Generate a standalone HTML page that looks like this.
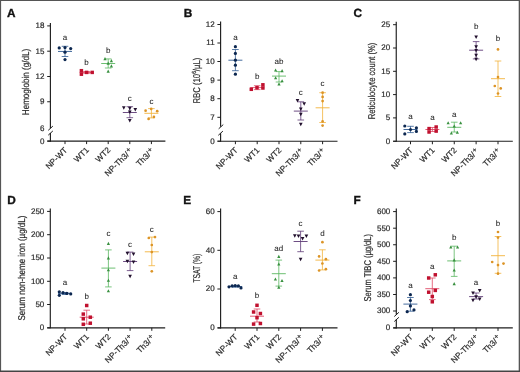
<!DOCTYPE html>
<html><head><meta charset="utf-8"><title>Figure</title>
<style>
html,body{margin:0;padding:0;background:#fff;}
body{width:520px;height:372px;overflow:hidden;}
svg{display:block;font-family:"Liberation Sans", sans-serif;text-rendering:geometricPrecision;will-change:transform;filter:blur(0.3px);}
text{stroke:#2b2b2b;stroke-width:0.2px;paint-order:stroke;}
</style></head>
<body>
<svg width="520" height="372" viewBox="0 0 520 372">
<rect width="520" height="372" fill="#fff"/>
<line x1="50.40" y1="22.90" x2="50.40" y2="128.20" stroke="#1e1e1e" stroke-width="1.15"/>
<line x1="50.40" y1="133.05" x2="50.40" y2="141.65" stroke="#1e1e1e" stroke-width="1.15"/>
<line x1="48.25" y1="130.30" x2="52.85" y2="126.10" stroke="#1e1e1e" stroke-width="1.0"/>
<line x1="48.25" y1="135.15" x2="52.85" y2="130.95" stroke="#1e1e1e" stroke-width="1.0"/>
<line x1="47.40" y1="141.10" x2="165.40" y2="141.10" stroke="#1e1e1e" stroke-width="1.15"/>
<line x1="47.20" y1="25.90" x2="50.40" y2="25.90" stroke="#1e1e1e" stroke-width="1.0"/>
<text x="44.40" y="28.30" font-size="8.0" text-anchor="end" font-weight="normal" fill="#2b2b2b" >18</text>
<line x1="47.20" y1="51.20" x2="50.40" y2="51.20" stroke="#1e1e1e" stroke-width="1.0"/>
<text x="44.40" y="53.60" font-size="8.0" text-anchor="end" font-weight="normal" fill="#2b2b2b" >15</text>
<line x1="47.20" y1="76.50" x2="50.40" y2="76.50" stroke="#1e1e1e" stroke-width="1.0"/>
<text x="44.40" y="78.90" font-size="8.0" text-anchor="end" font-weight="normal" fill="#2b2b2b" >12</text>
<line x1="47.20" y1="101.75" x2="50.40" y2="101.75" stroke="#1e1e1e" stroke-width="1.0"/>
<text x="44.40" y="104.15" font-size="8.0" text-anchor="end" font-weight="normal" fill="#2b2b2b" >9</text>
<text x="44.40" y="130.70" font-size="8.0" text-anchor="end" font-weight="normal" fill="#2b2b2b" >6</text>
<line x1="47.20" y1="141.10" x2="50.40" y2="141.10" stroke="#1e1e1e" stroke-width="1.0"/>
<text x="44.40" y="143.50" font-size="8.0" text-anchor="end" font-weight="normal" fill="#2b2b2b" >0</text>
<line x1="65.00" y1="141.10" x2="65.00" y2="144.10" stroke="#1e1e1e" stroke-width="1.0"/>
<text x="0" y="0" font-size="8.2" text-anchor="end" fill="#2b2b2b" transform="translate(67.90,150.60) rotate(-45)">NP-WT</text>
<line x1="86.60" y1="141.10" x2="86.60" y2="144.10" stroke="#1e1e1e" stroke-width="1.0"/>
<text x="0" y="0" font-size="8.2" text-anchor="end" fill="#2b2b2b" transform="translate(89.50,150.60) rotate(-45)">WT1</text>
<line x1="108.20" y1="141.10" x2="108.20" y2="144.10" stroke="#1e1e1e" stroke-width="1.0"/>
<text x="0" y="0" font-size="8.2" text-anchor="end" fill="#2b2b2b" transform="translate(111.10,150.60) rotate(-45)">WT2</text>
<line x1="129.80" y1="141.10" x2="129.80" y2="144.10" stroke="#1e1e1e" stroke-width="1.0"/>
<text x="0" y="0" font-size="8.2" text-anchor="end" fill="#2b2b2b" transform="translate(133.10,151.60) rotate(-45)">NP-Th3/<tspan font-size="7.4" dy="-2.3" dx="0.7">+</tspan></text>
<line x1="151.40" y1="141.10" x2="151.40" y2="144.10" stroke="#1e1e1e" stroke-width="1.0"/>
<text x="0" y="0" font-size="8.2" text-anchor="end" fill="#2b2b2b" transform="translate(154.70,151.60) rotate(-45)">Th3/<tspan font-size="7.4" dy="-2.3" dx="0.7">+</tspan></text>
<text x="0" y="0" font-size="9.8" text-anchor="middle" fill="#2b2b2b" transform="translate(29.20,82.00) rotate(-90) scale(0.8223,1)">Hemoglobin (g/dL)</text>
<text x="7.00" y="16.80" font-size="11.8" text-anchor="start" font-weight="bold" fill="#111" style="stroke:#111;stroke-width:0.35px">A</text>
<line x1="65.00" y1="46.30" x2="65.00" y2="56.50" stroke="#2f5a92" stroke-width="0.8"/>
<line x1="61.70" y1="46.30" x2="68.30" y2="46.30" stroke="#2f5a92" stroke-width="0.8"/>
<line x1="61.70" y1="56.50" x2="68.30" y2="56.50" stroke="#2f5a92" stroke-width="0.8"/>
<line x1="58.00" y1="51.45" x2="72.00" y2="51.45" stroke="#2f5a92" stroke-width="0.9"/>
<circle cx="59.20" cy="47.90" r="1.6" fill="#0c2750"/>
<circle cx="65.00" cy="47.60" r="1.6" fill="#0c2750"/>
<circle cx="70.70" cy="48.60" r="1.6" fill="#0c2750"/>
<circle cx="65.00" cy="52.20" r="1.6" fill="#0c2750"/>
<circle cx="65.00" cy="59.60" r="1.6" fill="#0c2750"/>
<text x="65.00" y="40.30" font-size="8.0" text-anchor="middle" font-weight="normal" fill="#2b2b2b" style="stroke-width:0.08px">a</text>
<line x1="86.60" y1="71.50" x2="86.60" y2="73.30" stroke="#df4a66" stroke-width="0.8"/>
<line x1="83.30" y1="71.50" x2="89.90" y2="71.50" stroke="#df4a66" stroke-width="0.8"/>
<line x1="83.30" y1="73.30" x2="89.90" y2="73.30" stroke="#df4a66" stroke-width="0.8"/>
<line x1="79.60" y1="72.40" x2="93.60" y2="72.40" stroke="#df4a66" stroke-width="0.9"/>
<rect x="79.66" y="68.96" width="3.48" height="3.48" fill="#c0112f"/>
<rect x="79.66" y="72.46" width="3.48" height="3.48" fill="#c0112f"/>
<rect x="84.86" y="70.66" width="3.48" height="3.48" fill="#c0112f"/>
<rect x="90.46" y="70.66" width="3.48" height="3.48" fill="#c0112f"/>
<text x="86.60" y="65.00" font-size="8.0" text-anchor="middle" font-weight="normal" fill="#2b2b2b" style="stroke-width:0.08px">b</text>
<line x1="108.20" y1="58.90" x2="108.20" y2="68.00" stroke="#5cb862" stroke-width="0.8"/>
<line x1="104.90" y1="58.90" x2="111.50" y2="58.90" stroke="#5cb862" stroke-width="0.8"/>
<line x1="104.90" y1="68.00" x2="111.50" y2="68.00" stroke="#5cb862" stroke-width="0.8"/>
<line x1="101.20" y1="63.50" x2="115.20" y2="63.50" stroke="#5cb862" stroke-width="0.9"/>
<polygon points="105.00,57.05 106.61,60.13 103.39,60.13" fill="#38903f"/>
<polygon points="111.40,59.05 113.01,62.13 109.79,62.13" fill="#38903f"/>
<polygon points="108.20,61.55 109.81,64.63 106.59,64.63" fill="#38903f"/>
<polygon points="111.40,64.35 113.01,67.43 109.79,67.43" fill="#38903f"/>
<polygon points="108.20,69.55 109.81,72.63 106.59,72.63" fill="#38903f"/>
<text x="108.20" y="52.50" font-size="8.0" text-anchor="middle" font-weight="normal" fill="#2b2b2b" style="stroke-width:0.08px">b</text>
<line x1="129.80" y1="106.70" x2="129.80" y2="117.70" stroke="#5e3a76" stroke-width="0.8"/>
<line x1="126.50" y1="106.70" x2="133.10" y2="106.70" stroke="#5e3a76" stroke-width="0.8"/>
<line x1="126.50" y1="117.70" x2="133.10" y2="117.70" stroke="#5e3a76" stroke-width="0.8"/>
<line x1="122.80" y1="112.50" x2="136.80" y2="112.50" stroke="#5e3a76" stroke-width="0.9"/>
<polygon points="123.80,109.81 125.64,106.29 121.96,106.29" fill="#22102e"/>
<polygon points="129.80,110.21 131.64,106.69 127.96,106.69" fill="#22102e"/>
<polygon points="135.30,111.61 137.14,108.09 133.46,108.09" fill="#22102e"/>
<polygon points="129.80,114.11 131.64,110.59 127.96,110.59" fill="#22102e"/>
<polygon points="129.80,122.51 131.64,118.99 127.96,118.99" fill="#22102e"/>
<text x="129.80" y="100.80" font-size="8.0" text-anchor="middle" font-weight="normal" fill="#2b2b2b" style="stroke-width:0.08px">c</text>
<line x1="151.40" y1="108.60" x2="151.40" y2="117.90" stroke="#f3b23a" stroke-width="0.8"/>
<line x1="148.10" y1="108.60" x2="154.70" y2="108.60" stroke="#f3b23a" stroke-width="0.8"/>
<line x1="148.10" y1="117.90" x2="154.70" y2="117.90" stroke="#f3b23a" stroke-width="0.8"/>
<line x1="144.40" y1="113.30" x2="158.40" y2="113.30" stroke="#f3b23a" stroke-width="0.9"/>
<circle cx="145.60" cy="110.70" r="1.35" fill="#dc9426"/>
<circle cx="151.20" cy="108.90" r="1.35" fill="#dc9426"/>
<circle cx="157.20" cy="111.20" r="1.35" fill="#dc9426"/>
<circle cx="153.90" cy="116.90" r="1.35" fill="#dc9426"/>
<circle cx="148.60" cy="118.90" r="1.35" fill="#dc9426"/>
<text x="151.40" y="103.50" font-size="8.0" text-anchor="middle" font-weight="normal" fill="#2b2b2b" style="stroke-width:0.08px">c</text>
<line x1="220.60" y1="21.50" x2="220.60" y2="126.70" stroke="#1e1e1e" stroke-width="1.15"/>
<line x1="220.60" y1="133.20" x2="220.60" y2="141.75" stroke="#1e1e1e" stroke-width="1.15"/>
<line x1="218.65" y1="128.80" x2="223.25" y2="124.60" stroke="#1e1e1e" stroke-width="1.0"/>
<line x1="218.30" y1="135.30" x2="222.90" y2="131.10" stroke="#1e1e1e" stroke-width="1.0"/>
<line x1="217.60" y1="141.20" x2="337.50" y2="141.20" stroke="#1e1e1e" stroke-width="1.15"/>
<line x1="217.40" y1="24.50" x2="220.60" y2="24.50" stroke="#1e1e1e" stroke-width="1.0"/>
<text x="214.60" y="26.90" font-size="8.0" text-anchor="end" font-weight="normal" fill="#2b2b2b" >12</text>
<line x1="217.40" y1="43.00" x2="220.60" y2="43.00" stroke="#1e1e1e" stroke-width="1.0"/>
<text x="214.60" y="45.40" font-size="8.0" text-anchor="end" font-weight="normal" fill="#2b2b2b" >11</text>
<line x1="217.40" y1="61.50" x2="220.60" y2="61.50" stroke="#1e1e1e" stroke-width="1.0"/>
<text x="214.60" y="63.90" font-size="8.0" text-anchor="end" font-weight="normal" fill="#2b2b2b" >10</text>
<line x1="217.40" y1="80.10" x2="220.60" y2="80.10" stroke="#1e1e1e" stroke-width="1.0"/>
<text x="214.60" y="82.50" font-size="8.0" text-anchor="end" font-weight="normal" fill="#2b2b2b" >9</text>
<line x1="217.40" y1="98.70" x2="220.60" y2="98.70" stroke="#1e1e1e" stroke-width="1.0"/>
<text x="214.60" y="101.10" font-size="8.0" text-anchor="end" font-weight="normal" fill="#2b2b2b" >8</text>
<line x1="217.40" y1="117.30" x2="220.60" y2="117.30" stroke="#1e1e1e" stroke-width="1.0"/>
<text x="214.60" y="119.70" font-size="8.0" text-anchor="end" font-weight="normal" fill="#2b2b2b" >7</text>
<line x1="217.40" y1="141.20" x2="220.60" y2="141.20" stroke="#1e1e1e" stroke-width="1.0"/>
<text x="214.60" y="143.60" font-size="8.0" text-anchor="end" font-weight="normal" fill="#2b2b2b" >0</text>
<line x1="235.40" y1="141.20" x2="235.40" y2="144.20" stroke="#1e1e1e" stroke-width="1.0"/>
<text x="0" y="0" font-size="8.2" text-anchor="end" fill="#2b2b2b" transform="translate(238.30,150.70) rotate(-45)">NP-WT</text>
<line x1="257.20" y1="141.20" x2="257.20" y2="144.20" stroke="#1e1e1e" stroke-width="1.0"/>
<text x="0" y="0" font-size="8.2" text-anchor="end" fill="#2b2b2b" transform="translate(260.10,150.70) rotate(-45)">WT1</text>
<line x1="279.00" y1="141.20" x2="279.00" y2="144.20" stroke="#1e1e1e" stroke-width="1.0"/>
<text x="0" y="0" font-size="8.2" text-anchor="end" fill="#2b2b2b" transform="translate(281.90,150.70) rotate(-45)">WT2</text>
<line x1="300.80" y1="141.20" x2="300.80" y2="144.20" stroke="#1e1e1e" stroke-width="1.0"/>
<text x="0" y="0" font-size="8.2" text-anchor="end" fill="#2b2b2b" transform="translate(304.10,151.70) rotate(-45)">NP-Th3/<tspan font-size="7.4" dy="-2.3" dx="0.7">+</tspan></text>
<line x1="322.60" y1="141.20" x2="322.60" y2="144.20" stroke="#1e1e1e" stroke-width="1.0"/>
<text x="0" y="0" font-size="8.2" text-anchor="end" fill="#2b2b2b" transform="translate(325.90,151.70) rotate(-45)">Th3/<tspan font-size="7.4" dy="-2.3" dx="0.7">+</tspan></text>
<text x="0" y="0" font-size="9.8" text-anchor="middle" fill="#2b2b2b" transform="translate(199.60,80.60) rotate(-90) scale(0.7931,1)">RBC (10<tspan font-size="6" dy="-3.4">6</tspan><tspan dy="3.4">/µL)</tspan></text>
<text x="183.80" y="16.80" font-size="11.8" text-anchor="start" font-weight="bold" fill="#111" style="stroke:#111;stroke-width:0.35px">B</text>
<line x1="235.40" y1="49.50" x2="235.40" y2="70.70" stroke="#2f5a92" stroke-width="0.8"/>
<line x1="232.10" y1="49.50" x2="238.70" y2="49.50" stroke="#2f5a92" stroke-width="0.8"/>
<line x1="232.10" y1="70.70" x2="238.70" y2="70.70" stroke="#2f5a92" stroke-width="0.8"/>
<line x1="228.40" y1="60.20" x2="242.40" y2="60.20" stroke="#2f5a92" stroke-width="0.9"/>
<circle cx="235.40" cy="46.70" r="1.6" fill="#0c2750"/>
<circle cx="235.40" cy="53.40" r="1.6" fill="#0c2750"/>
<circle cx="235.40" cy="60.20" r="1.6" fill="#0c2750"/>
<circle cx="235.40" cy="65.20" r="1.6" fill="#0c2750"/>
<circle cx="235.40" cy="74.20" r="1.6" fill="#0c2750"/>
<text x="235.40" y="40.40" font-size="8.0" text-anchor="middle" font-weight="normal" fill="#2b2b2b" style="stroke-width:0.08px">a</text>
<line x1="257.20" y1="85.70" x2="257.20" y2="89.60" stroke="#df4a66" stroke-width="0.8"/>
<line x1="253.90" y1="85.70" x2="260.50" y2="85.70" stroke="#df4a66" stroke-width="0.8"/>
<line x1="253.90" y1="89.60" x2="260.50" y2="89.60" stroke="#df4a66" stroke-width="0.8"/>
<line x1="250.20" y1="87.60" x2="264.20" y2="87.60" stroke="#df4a66" stroke-width="0.9"/>
<rect x="249.56" y="87.56" width="3.48" height="3.48" fill="#c0112f"/>
<rect x="255.26" y="85.96" width="3.48" height="3.48" fill="#c0112f"/>
<rect x="261.16" y="83.06" width="3.48" height="3.48" fill="#c0112f"/>
<rect x="261.16" y="86.26" width="3.48" height="3.48" fill="#c0112f"/>
<text x="257.20" y="79.40" font-size="8.0" text-anchor="middle" font-weight="normal" fill="#2b2b2b" style="stroke-width:0.08px">b</text>
<line x1="279.00" y1="71.60" x2="279.00" y2="82.00" stroke="#5cb862" stroke-width="0.8"/>
<line x1="275.70" y1="71.60" x2="282.30" y2="71.60" stroke="#5cb862" stroke-width="0.8"/>
<line x1="275.70" y1="82.00" x2="282.30" y2="82.00" stroke="#5cb862" stroke-width="0.8"/>
<line x1="272.00" y1="76.10" x2="286.00" y2="76.10" stroke="#5cb862" stroke-width="0.9"/>
<polygon points="275.60,68.45 277.21,71.53 273.99,71.53" fill="#38903f"/>
<polygon points="282.10,69.05 283.71,72.13 280.49,72.13" fill="#38903f"/>
<polygon points="275.60,76.25 277.21,79.33 273.99,79.33" fill="#38903f"/>
<polygon points="282.10,79.15 283.71,82.23 280.49,82.23" fill="#38903f"/>
<polygon points="279.00,82.35 280.61,85.43 277.39,85.43" fill="#38903f"/>
<text x="279.00" y="63.70" font-size="8.0" text-anchor="middle" font-weight="normal" fill="#2b2b2b" style="stroke-width:0.08px">ab</text>
<line x1="300.80" y1="101.80" x2="300.80" y2="120.00" stroke="#5e3a76" stroke-width="0.8"/>
<line x1="297.50" y1="101.80" x2="304.10" y2="101.80" stroke="#5e3a76" stroke-width="0.8"/>
<line x1="297.50" y1="120.00" x2="304.10" y2="120.00" stroke="#5e3a76" stroke-width="0.8"/>
<line x1="293.80" y1="111.10" x2="307.80" y2="111.10" stroke="#5e3a76" stroke-width="0.9"/>
<polygon points="297.50,102.51 299.34,98.99 295.66,98.99" fill="#22102e"/>
<polygon points="304.20,105.71 306.04,102.19 302.36,102.19" fill="#22102e"/>
<polygon points="300.80,110.91 302.64,107.39 298.96,107.39" fill="#22102e"/>
<polygon points="300.80,116.21 302.64,112.69 298.96,112.69" fill="#22102e"/>
<polygon points="300.80,126.31 302.64,122.79 298.96,122.79" fill="#22102e"/>
<text x="300.80" y="94.50" font-size="8.0" text-anchor="middle" font-weight="normal" fill="#2b2b2b" style="stroke-width:0.08px">c</text>
<line x1="322.60" y1="92.70" x2="322.60" y2="122.50" stroke="#f3b23a" stroke-width="0.8"/>
<line x1="319.30" y1="92.70" x2="325.90" y2="92.70" stroke="#f3b23a" stroke-width="0.8"/>
<line x1="319.30" y1="122.50" x2="325.90" y2="122.50" stroke="#f3b23a" stroke-width="0.8"/>
<line x1="315.60" y1="107.80" x2="329.60" y2="107.80" stroke="#f3b23a" stroke-width="0.9"/>
<circle cx="322.60" cy="92.70" r="1.35" fill="#dc9426"/>
<circle cx="322.60" cy="96.90" r="1.35" fill="#dc9426"/>
<circle cx="322.60" cy="101.10" r="1.35" fill="#dc9426"/>
<circle cx="322.60" cy="121.40" r="1.35" fill="#dc9426"/>
<circle cx="322.60" cy="125.60" r="1.35" fill="#dc9426"/>
<text x="322.60" y="86.10" font-size="8.0" text-anchor="middle" font-weight="normal" fill="#2b2b2b" style="stroke-width:0.08px">c</text>
<line x1="396.25" y1="21.80" x2="396.25" y2="141.80" stroke="#1e1e1e" stroke-width="1.15"/>
<line x1="393.25" y1="141.25" x2="512.80" y2="141.25" stroke="#1e1e1e" stroke-width="1.15"/>
<line x1="393.05" y1="24.70" x2="396.25" y2="24.70" stroke="#1e1e1e" stroke-width="1.0"/>
<text x="390.25" y="27.10" font-size="8.0" text-anchor="end" font-weight="normal" fill="#2b2b2b" >25</text>
<line x1="393.05" y1="48.00" x2="396.25" y2="48.00" stroke="#1e1e1e" stroke-width="1.0"/>
<text x="390.25" y="50.40" font-size="8.0" text-anchor="end" font-weight="normal" fill="#2b2b2b" >20</text>
<line x1="393.05" y1="71.30" x2="396.25" y2="71.30" stroke="#1e1e1e" stroke-width="1.0"/>
<text x="390.25" y="73.70" font-size="8.0" text-anchor="end" font-weight="normal" fill="#2b2b2b" >15</text>
<line x1="393.05" y1="94.60" x2="396.25" y2="94.60" stroke="#1e1e1e" stroke-width="1.0"/>
<text x="390.25" y="97.00" font-size="8.0" text-anchor="end" font-weight="normal" fill="#2b2b2b" >10</text>
<line x1="393.05" y1="117.90" x2="396.25" y2="117.90" stroke="#1e1e1e" stroke-width="1.0"/>
<text x="390.25" y="120.30" font-size="8.0" text-anchor="end" font-weight="normal" fill="#2b2b2b" >5</text>
<line x1="393.05" y1="141.25" x2="396.25" y2="141.25" stroke="#1e1e1e" stroke-width="1.0"/>
<text x="390.25" y="143.65" font-size="8.0" text-anchor="end" font-weight="normal" fill="#2b2b2b" >0</text>
<line x1="410.50" y1="141.25" x2="410.50" y2="144.25" stroke="#1e1e1e" stroke-width="1.0"/>
<text x="0" y="0" font-size="8.2" text-anchor="end" fill="#2b2b2b" transform="translate(413.40,150.75) rotate(-45)">NP-WT</text>
<line x1="432.38" y1="141.25" x2="432.38" y2="144.25" stroke="#1e1e1e" stroke-width="1.0"/>
<text x="0" y="0" font-size="8.2" text-anchor="end" fill="#2b2b2b" transform="translate(435.27,150.75) rotate(-45)">WT1</text>
<line x1="454.25" y1="141.25" x2="454.25" y2="144.25" stroke="#1e1e1e" stroke-width="1.0"/>
<text x="0" y="0" font-size="8.2" text-anchor="end" fill="#2b2b2b" transform="translate(457.15,150.75) rotate(-45)">WT2</text>
<line x1="476.12" y1="141.25" x2="476.12" y2="144.25" stroke="#1e1e1e" stroke-width="1.0"/>
<text x="0" y="0" font-size="8.2" text-anchor="end" fill="#2b2b2b" transform="translate(479.42,151.75) rotate(-45)">NP-Th3/<tspan font-size="7.4" dy="-2.3" dx="0.7">+</tspan></text>
<line x1="498.00" y1="141.25" x2="498.00" y2="144.25" stroke="#1e1e1e" stroke-width="1.0"/>
<text x="0" y="0" font-size="8.2" text-anchor="end" fill="#2b2b2b" transform="translate(501.30,151.75) rotate(-45)">Th3/<tspan font-size="7.4" dy="-2.3" dx="0.7">+</tspan></text>
<text x="0" y="0" font-size="9.8" text-anchor="middle" fill="#2b2b2b" transform="translate(374.80,81.00) rotate(-90) scale(0.7813,1)">Reticulocyte count (%)</text>
<text x="353.60" y="16.80" font-size="11.8" text-anchor="start" font-weight="bold" fill="#111" style="stroke:#111;stroke-width:0.35px">C</text>
<line x1="410.50" y1="126.30" x2="410.50" y2="132.60" stroke="#2f5a92" stroke-width="0.8"/>
<line x1="407.20" y1="126.30" x2="413.80" y2="126.30" stroke="#2f5a92" stroke-width="0.8"/>
<line x1="407.20" y1="132.60" x2="413.80" y2="132.60" stroke="#2f5a92" stroke-width="0.8"/>
<line x1="403.50" y1="129.50" x2="417.50" y2="129.50" stroke="#2f5a92" stroke-width="0.9"/>
<circle cx="404.80" cy="126.00" r="1.6" fill="#0c2750"/>
<circle cx="404.80" cy="133.90" r="1.6" fill="#0c2750"/>
<circle cx="410.50" cy="129.50" r="1.6" fill="#0c2750"/>
<circle cx="416.40" cy="127.80" r="1.6" fill="#0c2750"/>
<circle cx="416.40" cy="131.40" r="1.6" fill="#0c2750"/>
<text x="410.50" y="119.30" font-size="8.0" text-anchor="middle" font-weight="normal" fill="#2b2b2b" style="stroke-width:0.08px">a</text>
<line x1="432.38" y1="127.50" x2="432.38" y2="131.50" stroke="#df4a66" stroke-width="0.8"/>
<line x1="429.07" y1="127.50" x2="435.68" y2="127.50" stroke="#df4a66" stroke-width="0.8"/>
<line x1="429.07" y1="131.50" x2="435.68" y2="131.50" stroke="#df4a66" stroke-width="0.8"/>
<line x1="425.38" y1="129.50" x2="439.38" y2="129.50" stroke="#df4a66" stroke-width="0.9"/>
<rect x="427.33" y="126.86" width="3.48" height="3.48" fill="#c0112f"/>
<rect x="427.33" y="130.26" width="3.48" height="3.48" fill="#c0112f"/>
<rect x="434.43" y="125.26" width="3.48" height="3.48" fill="#c0112f"/>
<rect x="434.43" y="129.36" width="3.48" height="3.48" fill="#c0112f"/>
<text x="432.38" y="120.20" font-size="8.0" text-anchor="middle" font-weight="normal" fill="#2b2b2b" style="stroke-width:0.08px">a</text>
<line x1="454.25" y1="122.20" x2="454.25" y2="132.00" stroke="#5cb862" stroke-width="0.8"/>
<line x1="450.95" y1="122.20" x2="457.55" y2="122.20" stroke="#5cb862" stroke-width="0.8"/>
<line x1="450.95" y1="132.00" x2="457.55" y2="132.00" stroke="#5cb862" stroke-width="0.8"/>
<line x1="447.25" y1="127.30" x2="461.25" y2="127.30" stroke="#5cb862" stroke-width="0.9"/>
<polygon points="448.15,121.25 449.76,124.33 446.54,124.33" fill="#38903f"/>
<polygon points="460.65,121.25 462.26,124.33 459.04,124.33" fill="#38903f"/>
<polygon points="454.25,124.45 455.86,127.53 452.64,127.53" fill="#38903f"/>
<polygon points="451.35,131.45 452.96,134.53 449.74,134.53" fill="#38903f"/>
<polygon points="457.35,130.75 458.96,133.83 455.74,133.83" fill="#38903f"/>
<text x="454.25" y="117.20" font-size="8.0" text-anchor="middle" font-weight="normal" fill="#2b2b2b" style="stroke-width:0.08px">a</text>
<line x1="476.12" y1="41.60" x2="476.12" y2="58.90" stroke="#5e3a76" stroke-width="0.8"/>
<line x1="472.82" y1="41.60" x2="479.43" y2="41.60" stroke="#5e3a76" stroke-width="0.8"/>
<line x1="472.82" y1="58.90" x2="479.43" y2="58.90" stroke="#5e3a76" stroke-width="0.8"/>
<line x1="469.12" y1="50.20" x2="483.12" y2="50.20" stroke="#5e3a76" stroke-width="0.9"/>
<polygon points="476.12,39.11 477.96,35.59 474.29,35.59" fill="#22102e"/>
<polygon points="476.12,48.81 477.96,45.29 474.29,45.29" fill="#22102e"/>
<polygon points="476.12,52.41 477.96,48.89 474.29,48.89" fill="#22102e"/>
<polygon points="476.12,57.21 477.96,53.69 474.29,53.69" fill="#22102e"/>
<polygon points="476.12,61.21 477.96,57.69 474.29,57.69" fill="#22102e"/>
<text x="476.12" y="29.40" font-size="8.0" text-anchor="middle" font-weight="normal" fill="#2b2b2b" style="stroke-width:0.08px">b</text>
<line x1="498.00" y1="61.00" x2="498.00" y2="96.50" stroke="#f3b23a" stroke-width="0.8"/>
<line x1="494.70" y1="61.00" x2="501.30" y2="61.00" stroke="#f3b23a" stroke-width="0.8"/>
<line x1="494.70" y1="96.50" x2="501.30" y2="96.50" stroke="#f3b23a" stroke-width="0.8"/>
<line x1="491.00" y1="78.70" x2="505.00" y2="78.70" stroke="#f3b23a" stroke-width="0.9"/>
<circle cx="498.00" cy="49.40" r="1.35" fill="#dc9426"/>
<circle cx="498.00" cy="77.10" r="1.35" fill="#dc9426"/>
<circle cx="494.80" cy="86.00" r="1.35" fill="#dc9426"/>
<circle cx="500.70" cy="88.40" r="1.35" fill="#dc9426"/>
<circle cx="498.00" cy="93.50" r="1.35" fill="#dc9426"/>
<text x="498.00" y="41.40" font-size="8.0" text-anchor="middle" font-weight="normal" fill="#2b2b2b" style="stroke-width:0.08px">b</text>
<line x1="50.30" y1="208.50" x2="50.30" y2="328.35" stroke="#1e1e1e" stroke-width="1.15"/>
<line x1="47.30" y1="327.80" x2="165.20" y2="327.80" stroke="#1e1e1e" stroke-width="1.15"/>
<line x1="47.10" y1="211.40" x2="50.30" y2="211.40" stroke="#1e1e1e" stroke-width="1.0"/>
<text x="44.30" y="213.80" font-size="8.0" text-anchor="end" font-weight="normal" fill="#2b2b2b" >250</text>
<line x1="47.10" y1="234.70" x2="50.30" y2="234.70" stroke="#1e1e1e" stroke-width="1.0"/>
<text x="44.30" y="237.10" font-size="8.0" text-anchor="end" font-weight="normal" fill="#2b2b2b" >200</text>
<line x1="47.10" y1="258.00" x2="50.30" y2="258.00" stroke="#1e1e1e" stroke-width="1.0"/>
<text x="44.30" y="260.40" font-size="8.0" text-anchor="end" font-weight="normal" fill="#2b2b2b" >150</text>
<line x1="47.10" y1="281.30" x2="50.30" y2="281.30" stroke="#1e1e1e" stroke-width="1.0"/>
<text x="44.30" y="283.70" font-size="8.0" text-anchor="end" font-weight="normal" fill="#2b2b2b" >100</text>
<line x1="47.10" y1="304.50" x2="50.30" y2="304.50" stroke="#1e1e1e" stroke-width="1.0"/>
<text x="44.30" y="306.90" font-size="8.0" text-anchor="end" font-weight="normal" fill="#2b2b2b" >50</text>
<line x1="47.10" y1="327.80" x2="50.30" y2="327.80" stroke="#1e1e1e" stroke-width="1.0"/>
<text x="44.30" y="330.20" font-size="8.0" text-anchor="end" font-weight="normal" fill="#2b2b2b" >0</text>
<line x1="65.00" y1="327.80" x2="65.00" y2="330.80" stroke="#1e1e1e" stroke-width="1.0"/>
<text x="0" y="0" font-size="8.2" text-anchor="end" fill="#2b2b2b" transform="translate(67.90,337.30) rotate(-45)">NP-WT</text>
<line x1="86.70" y1="327.80" x2="86.70" y2="330.80" stroke="#1e1e1e" stroke-width="1.0"/>
<text x="0" y="0" font-size="8.2" text-anchor="end" fill="#2b2b2b" transform="translate(89.60,337.30) rotate(-45)">WT1</text>
<line x1="108.40" y1="327.80" x2="108.40" y2="330.80" stroke="#1e1e1e" stroke-width="1.0"/>
<text x="0" y="0" font-size="8.2" text-anchor="end" fill="#2b2b2b" transform="translate(111.30,337.30) rotate(-45)">WT2</text>
<line x1="130.10" y1="327.80" x2="130.10" y2="330.80" stroke="#1e1e1e" stroke-width="1.0"/>
<text x="0" y="0" font-size="8.2" text-anchor="end" fill="#2b2b2b" transform="translate(133.40,338.30) rotate(-45)">NP-Th3/<tspan font-size="7.4" dy="-2.3" dx="0.7">+</tspan></text>
<line x1="151.80" y1="327.80" x2="151.80" y2="330.80" stroke="#1e1e1e" stroke-width="1.0"/>
<text x="0" y="0" font-size="8.2" text-anchor="end" fill="#2b2b2b" transform="translate(155.10,338.30) rotate(-45)">Th3/<tspan font-size="7.4" dy="-2.3" dx="0.7">+</tspan></text>
<text x="0" y="0" font-size="9.8" text-anchor="middle" fill="#2b2b2b" transform="translate(24.50,268.10) rotate(-90) scale(0.8155,1)">Serum non-heme iron (µg/dL)</text>
<text x="7.20" y="203.60" font-size="11.8" text-anchor="start" font-weight="bold" fill="#111" style="stroke:#111;stroke-width:0.35px">D</text>
<line x1="65.00" y1="292.50" x2="65.00" y2="294.50" stroke="#2f5a92" stroke-width="0.8"/>
<line x1="61.70" y1="292.50" x2="68.30" y2="292.50" stroke="#2f5a92" stroke-width="0.8"/>
<line x1="61.70" y1="294.50" x2="68.30" y2="294.50" stroke="#2f5a92" stroke-width="0.8"/>
<line x1="58.00" y1="293.40" x2="72.00" y2="293.40" stroke="#2f5a92" stroke-width="0.9"/>
<circle cx="59.30" cy="291.80" r="1.6" fill="#0c2750"/>
<circle cx="59.30" cy="295.30" r="1.6" fill="#0c2750"/>
<circle cx="63.00" cy="292.70" r="1.6" fill="#0c2750"/>
<circle cx="66.80" cy="293.40" r="1.6" fill="#0c2750"/>
<circle cx="70.70" cy="293.90" r="1.6" fill="#0c2750"/>
<text x="65.00" y="285.30" font-size="8.0" text-anchor="middle" font-weight="normal" fill="#2b2b2b" style="stroke-width:0.08px">a</text>
<line x1="86.70" y1="310.20" x2="86.70" y2="324.00" stroke="#df4a66" stroke-width="0.8"/>
<line x1="83.40" y1="310.20" x2="90.00" y2="310.20" stroke="#df4a66" stroke-width="0.8"/>
<line x1="83.40" y1="324.00" x2="90.00" y2="324.00" stroke="#df4a66" stroke-width="0.8"/>
<line x1="79.70" y1="317.20" x2="93.70" y2="317.20" stroke="#df4a66" stroke-width="0.9"/>
<rect x="84.96" y="303.76" width="3.48" height="3.48" fill="#c0112f"/>
<rect x="81.56" y="312.36" width="3.48" height="3.48" fill="#c0112f"/>
<rect x="81.56" y="317.06" width="3.48" height="3.48" fill="#c0112f"/>
<rect x="88.56" y="315.46" width="3.48" height="3.48" fill="#c0112f"/>
<rect x="81.56" y="322.56" width="3.48" height="3.48" fill="#c0112f"/>
<rect x="88.56" y="321.46" width="3.48" height="3.48" fill="#c0112f"/>
<text x="86.70" y="298.50" font-size="8.0" text-anchor="middle" font-weight="normal" fill="#2b2b2b" style="stroke-width:0.08px">b</text>
<line x1="108.40" y1="249.90" x2="108.40" y2="286.90" stroke="#5cb862" stroke-width="0.8"/>
<line x1="105.10" y1="249.90" x2="111.70" y2="249.90" stroke="#5cb862" stroke-width="0.8"/>
<line x1="105.10" y1="286.90" x2="111.70" y2="286.90" stroke="#5cb862" stroke-width="0.8"/>
<line x1="101.40" y1="268.10" x2="115.40" y2="268.10" stroke="#5cb862" stroke-width="0.9"/>
<polygon points="108.40,241.85 110.01,244.93 106.79,244.93" fill="#38903f"/>
<polygon points="108.40,256.35 110.01,259.43 106.79,259.43" fill="#38903f"/>
<polygon points="108.40,268.15 110.01,271.23 106.79,271.23" fill="#38903f"/>
<polygon points="108.40,278.75 110.01,281.83 106.79,281.83" fill="#38903f"/>
<polygon points="108.40,289.15 110.01,292.23 106.79,292.23" fill="#38903f"/>
<text x="108.40" y="235.60" font-size="8.0" text-anchor="middle" font-weight="normal" fill="#2b2b2b" style="stroke-width:0.08px">c</text>
<line x1="130.10" y1="252.10" x2="130.10" y2="270.60" stroke="#5e3a76" stroke-width="0.8"/>
<line x1="126.80" y1="252.10" x2="133.40" y2="252.10" stroke="#5e3a76" stroke-width="0.8"/>
<line x1="126.80" y1="270.60" x2="133.40" y2="270.60" stroke="#5e3a76" stroke-width="0.8"/>
<line x1="123.10" y1="261.50" x2="137.10" y2="261.50" stroke="#5e3a76" stroke-width="0.9"/>
<polygon points="127.40,255.21 129.24,251.69 125.56,251.69" fill="#22102e"/>
<polygon points="133.50,256.11 135.34,252.59 131.66,252.59" fill="#22102e"/>
<polygon points="127.40,263.31 129.24,259.79 125.56,259.79" fill="#22102e"/>
<polygon points="133.50,264.01 135.34,260.49 131.66,260.49" fill="#22102e"/>
<polygon points="130.10,278.31 131.94,274.79 128.26,274.79" fill="#22102e"/>
<text x="130.10" y="246.50" font-size="8.0" text-anchor="middle" font-weight="normal" fill="#2b2b2b" style="stroke-width:0.08px">c</text>
<line x1="151.80" y1="237.10" x2="151.80" y2="265.70" stroke="#f3b23a" stroke-width="0.8"/>
<line x1="148.50" y1="237.10" x2="155.10" y2="237.10" stroke="#f3b23a" stroke-width="0.8"/>
<line x1="148.50" y1="265.70" x2="155.10" y2="265.70" stroke="#f3b23a" stroke-width="0.8"/>
<line x1="144.80" y1="251.80" x2="158.80" y2="251.80" stroke="#f3b23a" stroke-width="0.9"/>
<circle cx="148.80" cy="238.00" r="1.35" fill="#dc9426"/>
<circle cx="155.00" cy="237.10" r="1.35" fill="#dc9426"/>
<circle cx="151.80" cy="245.00" r="1.35" fill="#dc9426"/>
<circle cx="151.80" cy="252.10" r="1.35" fill="#dc9426"/>
<circle cx="151.80" cy="271.30" r="1.35" fill="#dc9426"/>
<text x="151.80" y="231.80" font-size="8.0" text-anchor="middle" font-weight="normal" fill="#2b2b2b" style="stroke-width:0.08px">c</text>
<line x1="220.60" y1="208.60" x2="220.60" y2="328.45" stroke="#1e1e1e" stroke-width="1.15"/>
<line x1="217.60" y1="327.90" x2="337.50" y2="327.90" stroke="#1e1e1e" stroke-width="1.15"/>
<line x1="217.40" y1="211.60" x2="220.60" y2="211.60" stroke="#1e1e1e" stroke-width="1.0"/>
<text x="214.60" y="214.00" font-size="8.0" text-anchor="end" font-weight="normal" fill="#2b2b2b" >60</text>
<line x1="217.40" y1="250.30" x2="220.60" y2="250.30" stroke="#1e1e1e" stroke-width="1.0"/>
<text x="214.60" y="252.70" font-size="8.0" text-anchor="end" font-weight="normal" fill="#2b2b2b" >40</text>
<line x1="217.40" y1="289.00" x2="220.60" y2="289.00" stroke="#1e1e1e" stroke-width="1.0"/>
<text x="214.60" y="291.40" font-size="8.0" text-anchor="end" font-weight="normal" fill="#2b2b2b" >20</text>
<line x1="217.40" y1="327.90" x2="220.60" y2="327.90" stroke="#1e1e1e" stroke-width="1.0"/>
<text x="214.60" y="330.30" font-size="8.0" text-anchor="end" font-weight="normal" fill="#2b2b2b" >0</text>
<line x1="235.20" y1="327.90" x2="235.20" y2="330.90" stroke="#1e1e1e" stroke-width="1.0"/>
<text x="0" y="0" font-size="8.2" text-anchor="end" fill="#2b2b2b" transform="translate(238.10,337.40) rotate(-45)">NP-WT</text>
<line x1="257.00" y1="327.90" x2="257.00" y2="330.90" stroke="#1e1e1e" stroke-width="1.0"/>
<text x="0" y="0" font-size="8.2" text-anchor="end" fill="#2b2b2b" transform="translate(259.90,337.40) rotate(-45)">WT1</text>
<line x1="278.80" y1="327.90" x2="278.80" y2="330.90" stroke="#1e1e1e" stroke-width="1.0"/>
<text x="0" y="0" font-size="8.2" text-anchor="end" fill="#2b2b2b" transform="translate(281.70,337.40) rotate(-45)">WT2</text>
<line x1="300.60" y1="327.90" x2="300.60" y2="330.90" stroke="#1e1e1e" stroke-width="1.0"/>
<text x="0" y="0" font-size="8.2" text-anchor="end" fill="#2b2b2b" transform="translate(303.90,338.40) rotate(-45)">NP-Th3/<tspan font-size="7.4" dy="-2.3" dx="0.7">+</tspan></text>
<line x1="322.40" y1="327.90" x2="322.40" y2="330.90" stroke="#1e1e1e" stroke-width="1.0"/>
<text x="0" y="0" font-size="8.2" text-anchor="end" fill="#2b2b2b" transform="translate(325.70,338.40) rotate(-45)">Th3/<tspan font-size="7.4" dy="-2.3" dx="0.7">+</tspan></text>
<text x="0" y="0" font-size="9.8" text-anchor="middle" fill="#2b2b2b" transform="translate(199.60,268.10) rotate(-90) scale(0.6840,1)">TSAT (%)</text>
<text x="183.30" y="203.60" font-size="11.8" text-anchor="start" font-weight="bold" fill="#111" style="stroke:#111;stroke-width:0.35px">E</text>
<line x1="235.20" y1="285.80" x2="235.20" y2="287.20" stroke="#2f5a92" stroke-width="0.8"/>
<line x1="231.90" y1="285.80" x2="238.50" y2="285.80" stroke="#2f5a92" stroke-width="0.8"/>
<line x1="231.90" y1="287.20" x2="238.50" y2="287.20" stroke="#2f5a92" stroke-width="0.8"/>
<line x1="228.20" y1="286.50" x2="242.20" y2="286.50" stroke="#2f5a92" stroke-width="0.9"/>
<circle cx="229.00" cy="286.80" r="1.6" fill="#0c2750"/>
<circle cx="232.10" cy="285.90" r="1.6" fill="#0c2750"/>
<circle cx="235.20" cy="285.60" r="1.6" fill="#0c2750"/>
<circle cx="238.40" cy="285.90" r="1.6" fill="#0c2750"/>
<circle cx="241.00" cy="287.90" r="1.6" fill="#0c2750"/>
<text x="235.20" y="278.60" font-size="8.0" text-anchor="middle" font-weight="normal" fill="#2b2b2b" style="stroke-width:0.08px">a</text>
<line x1="257.00" y1="309.00" x2="257.00" y2="322.00" stroke="#df4a66" stroke-width="0.8"/>
<line x1="253.70" y1="309.00" x2="260.30" y2="309.00" stroke="#df4a66" stroke-width="0.8"/>
<line x1="253.70" y1="322.00" x2="260.30" y2="322.00" stroke="#df4a66" stroke-width="0.8"/>
<line x1="250.00" y1="316.20" x2="264.00" y2="316.20" stroke="#df4a66" stroke-width="0.9"/>
<rect x="255.26" y="303.56" width="3.48" height="3.48" fill="#c0112f"/>
<rect x="251.86" y="310.26" width="3.48" height="3.48" fill="#c0112f"/>
<rect x="258.66" y="311.76" width="3.48" height="3.48" fill="#c0112f"/>
<rect x="255.26" y="315.96" width="3.48" height="3.48" fill="#c0112f"/>
<rect x="251.86" y="322.36" width="3.48" height="3.48" fill="#c0112f"/>
<rect x="258.66" y="321.76" width="3.48" height="3.48" fill="#c0112f"/>
<text x="257.00" y="298.00" font-size="8.0" text-anchor="middle" font-weight="normal" fill="#2b2b2b" style="stroke-width:0.08px">b</text>
<line x1="278.80" y1="260.10" x2="278.80" y2="286.10" stroke="#5cb862" stroke-width="0.8"/>
<line x1="275.50" y1="260.10" x2="282.10" y2="260.10" stroke="#5cb862" stroke-width="0.8"/>
<line x1="275.50" y1="286.10" x2="282.10" y2="286.10" stroke="#5cb862" stroke-width="0.8"/>
<line x1="271.80" y1="273.70" x2="285.80" y2="273.70" stroke="#5cb862" stroke-width="0.9"/>
<polygon points="278.80,254.85 280.41,257.93 277.19,257.93" fill="#38903f"/>
<polygon points="278.80,262.45 280.41,265.53 277.19,265.53" fill="#38903f"/>
<polygon points="275.40,277.45 277.01,280.53 273.79,280.53" fill="#38903f"/>
<polygon points="282.00,278.95 283.61,282.03 280.39,282.03" fill="#38903f"/>
<polygon points="278.80,285.55 280.41,288.63 277.19,288.63" fill="#38903f"/>
<text x="278.80" y="250.70" font-size="8.0" text-anchor="middle" font-weight="normal" fill="#2b2b2b" style="stroke-width:0.08px">ad</text>
<line x1="300.60" y1="231.20" x2="300.60" y2="251.70" stroke="#5e3a76" stroke-width="0.8"/>
<line x1="297.30" y1="231.20" x2="303.90" y2="231.20" stroke="#5e3a76" stroke-width="0.8"/>
<line x1="297.30" y1="251.70" x2="303.90" y2="251.70" stroke="#5e3a76" stroke-width="0.8"/>
<line x1="293.60" y1="241.50" x2="307.60" y2="241.50" stroke="#5e3a76" stroke-width="0.9"/>
<polygon points="294.80,237.71 296.64,234.19 292.96,234.19" fill="#22102e"/>
<polygon points="298.50,238.11 300.34,234.59 296.66,234.59" fill="#22102e"/>
<polygon points="302.60,240.41 304.44,236.89 300.76,236.89" fill="#22102e"/>
<polygon points="306.40,238.11 308.24,234.59 304.56,234.59" fill="#22102e"/>
<polygon points="300.60,261.31 302.44,257.79 298.76,257.79" fill="#22102e"/>
<text x="300.60" y="225.70" font-size="8.0" text-anchor="middle" font-weight="normal" fill="#2b2b2b" style="stroke-width:0.08px">c</text>
<line x1="322.40" y1="249.80" x2="322.40" y2="269.90" stroke="#f3b23a" stroke-width="0.8"/>
<line x1="319.10" y1="249.80" x2="325.70" y2="249.80" stroke="#f3b23a" stroke-width="0.8"/>
<line x1="319.10" y1="269.90" x2="325.70" y2="269.90" stroke="#f3b23a" stroke-width="0.8"/>
<line x1="315.40" y1="260.10" x2="329.40" y2="260.10" stroke="#f3b23a" stroke-width="0.9"/>
<circle cx="322.40" cy="242.20" r="1.35" fill="#dc9426"/>
<circle cx="319.10" cy="256.40" r="1.35" fill="#dc9426"/>
<circle cx="325.90" cy="259.20" r="1.35" fill="#dc9426"/>
<circle cx="322.40" cy="263.50" r="1.35" fill="#dc9426"/>
<circle cx="319.10" cy="270.50" r="1.35" fill="#dc9426"/>
<circle cx="325.90" cy="269.20" r="1.35" fill="#dc9426"/>
<text x="322.40" y="235.60" font-size="8.0" text-anchor="middle" font-weight="normal" fill="#2b2b2b" style="stroke-width:0.08px">d</text>
<line x1="396.30" y1="208.60" x2="396.30" y2="314.40" stroke="#1e1e1e" stroke-width="1.15"/>
<line x1="396.30" y1="319.40" x2="396.30" y2="328.45" stroke="#1e1e1e" stroke-width="1.15"/>
<line x1="394.30" y1="316.50" x2="398.90" y2="312.30" stroke="#1e1e1e" stroke-width="1.0"/>
<line x1="394.30" y1="321.50" x2="398.90" y2="317.30" stroke="#1e1e1e" stroke-width="1.0"/>
<line x1="393.30" y1="327.90" x2="512.80" y2="327.90" stroke="#1e1e1e" stroke-width="1.15"/>
<line x1="393.10" y1="211.60" x2="396.30" y2="211.60" stroke="#1e1e1e" stroke-width="1.0"/>
<text x="390.30" y="214.00" font-size="8.0" text-anchor="end" font-weight="normal" fill="#2b2b2b" >600</text>
<line x1="393.10" y1="228.20" x2="396.30" y2="228.20" stroke="#1e1e1e" stroke-width="1.0"/>
<text x="390.30" y="230.60" font-size="8.0" text-anchor="end" font-weight="normal" fill="#2b2b2b" >550</text>
<line x1="393.10" y1="244.75" x2="396.30" y2="244.75" stroke="#1e1e1e" stroke-width="1.0"/>
<text x="390.30" y="247.15" font-size="8.0" text-anchor="end" font-weight="normal" fill="#2b2b2b" >500</text>
<line x1="393.10" y1="261.30" x2="396.30" y2="261.30" stroke="#1e1e1e" stroke-width="1.0"/>
<text x="390.30" y="263.70" font-size="8.0" text-anchor="end" font-weight="normal" fill="#2b2b2b" >450</text>
<line x1="393.10" y1="277.90" x2="396.30" y2="277.90" stroke="#1e1e1e" stroke-width="1.0"/>
<text x="390.30" y="280.30" font-size="8.0" text-anchor="end" font-weight="normal" fill="#2b2b2b" >400</text>
<line x1="393.10" y1="294.50" x2="396.30" y2="294.50" stroke="#1e1e1e" stroke-width="1.0"/>
<text x="390.30" y="296.90" font-size="8.0" text-anchor="end" font-weight="normal" fill="#2b2b2b" >350</text>
<line x1="393.10" y1="311.00" x2="396.30" y2="311.00" stroke="#1e1e1e" stroke-width="1.0"/>
<text x="390.30" y="313.40" font-size="8.0" text-anchor="end" font-weight="normal" fill="#2b2b2b" >300</text>
<line x1="393.10" y1="327.90" x2="396.30" y2="327.90" stroke="#1e1e1e" stroke-width="1.0"/>
<text x="390.30" y="330.30" font-size="8.0" text-anchor="end" font-weight="normal" fill="#2b2b2b" >0</text>
<line x1="410.40" y1="327.90" x2="410.40" y2="330.90" stroke="#1e1e1e" stroke-width="1.0"/>
<text x="0" y="0" font-size="8.2" text-anchor="end" fill="#2b2b2b" transform="translate(413.30,337.40) rotate(-45)">NP-WT</text>
<line x1="432.30" y1="327.90" x2="432.30" y2="330.90" stroke="#1e1e1e" stroke-width="1.0"/>
<text x="0" y="0" font-size="8.2" text-anchor="end" fill="#2b2b2b" transform="translate(435.20,337.40) rotate(-45)">WT1</text>
<line x1="454.20" y1="327.90" x2="454.20" y2="330.90" stroke="#1e1e1e" stroke-width="1.0"/>
<text x="0" y="0" font-size="8.2" text-anchor="end" fill="#2b2b2b" transform="translate(457.10,337.40) rotate(-45)">WT2</text>
<line x1="476.10" y1="327.90" x2="476.10" y2="330.90" stroke="#1e1e1e" stroke-width="1.0"/>
<text x="0" y="0" font-size="8.2" text-anchor="end" fill="#2b2b2b" transform="translate(479.40,338.40) rotate(-45)">NP-Th3/<tspan font-size="7.4" dy="-2.3" dx="0.7">+</tspan></text>
<line x1="498.00" y1="327.90" x2="498.00" y2="330.90" stroke="#1e1e1e" stroke-width="1.0"/>
<text x="0" y="0" font-size="8.2" text-anchor="end" fill="#2b2b2b" transform="translate(501.30,338.40) rotate(-45)">Th3/<tspan font-size="7.4" dy="-2.3" dx="0.7">+</tspan></text>
<text x="0" y="0" font-size="9.8" text-anchor="middle" fill="#2b2b2b" transform="translate(370.60,267.75) rotate(-90) scale(0.7708,1)">Serum TIBC (µg/dL)</text>
<text x="353.60" y="203.60" font-size="11.8" text-anchor="start" font-weight="bold" fill="#111" style="stroke:#111;stroke-width:0.35px">F</text>
<line x1="410.40" y1="297.50" x2="410.40" y2="311.20" stroke="#2f5a92" stroke-width="0.8"/>
<line x1="407.10" y1="297.50" x2="413.70" y2="297.50" stroke="#2f5a92" stroke-width="0.8"/>
<line x1="407.10" y1="311.20" x2="413.70" y2="311.20" stroke="#2f5a92" stroke-width="0.8"/>
<line x1="403.40" y1="304.10" x2="417.40" y2="304.10" stroke="#2f5a92" stroke-width="0.9"/>
<circle cx="410.40" cy="294.70" r="1.6" fill="#0c2750"/>
<circle cx="410.40" cy="300.50" r="1.6" fill="#0c2750"/>
<circle cx="410.40" cy="305.90" r="1.6" fill="#0c2750"/>
<circle cx="407.20" cy="311.70" r="1.6" fill="#0c2750"/>
<circle cx="414.00" cy="309.90" r="1.6" fill="#0c2750"/>
<text x="410.40" y="288.10" font-size="8.0" text-anchor="middle" font-weight="normal" fill="#2b2b2b" style="stroke-width:0.08px">a</text>
<line x1="432.30" y1="278.00" x2="432.30" y2="299.60" stroke="#df4a66" stroke-width="0.8"/>
<line x1="429.00" y1="278.00" x2="435.60" y2="278.00" stroke="#df4a66" stroke-width="0.8"/>
<line x1="429.00" y1="299.60" x2="435.60" y2="299.60" stroke="#df4a66" stroke-width="0.8"/>
<line x1="425.30" y1="288.70" x2="439.30" y2="288.70" stroke="#df4a66" stroke-width="0.9"/>
<rect x="426.96" y="276.26" width="3.48" height="3.48" fill="#c0112f"/>
<rect x="433.56" y="273.06" width="3.48" height="3.48" fill="#c0112f"/>
<rect x="426.96" y="290.46" width="3.48" height="3.48" fill="#c0112f"/>
<rect x="433.56" y="288.66" width="3.48" height="3.48" fill="#c0112f"/>
<rect x="430.56" y="294.76" width="3.48" height="3.48" fill="#c0112f"/>
<rect x="430.56" y="300.06" width="3.48" height="3.48" fill="#c0112f"/>
<text x="432.30" y="268.60" font-size="8.0" text-anchor="middle" font-weight="normal" fill="#2b2b2b" style="stroke-width:0.08px">a</text>
<line x1="454.20" y1="246.20" x2="454.20" y2="276.40" stroke="#5cb862" stroke-width="0.8"/>
<line x1="450.90" y1="246.20" x2="457.50" y2="246.20" stroke="#5cb862" stroke-width="0.8"/>
<line x1="450.90" y1="276.40" x2="457.50" y2="276.40" stroke="#5cb862" stroke-width="0.8"/>
<line x1="447.20" y1="260.90" x2="461.20" y2="260.90" stroke="#5cb862" stroke-width="0.9"/>
<polygon points="450.80,245.45 452.41,248.53 449.19,248.53" fill="#38903f"/>
<polygon points="457.60,245.45 459.21,248.53 455.99,248.53" fill="#38903f"/>
<polygon points="454.20,258.35 455.81,261.43 452.59,261.43" fill="#38903f"/>
<polygon points="454.20,268.45 455.81,271.53 452.59,271.53" fill="#38903f"/>
<polygon points="454.20,282.05 455.81,285.13 452.59,285.13" fill="#38903f"/>
<text x="454.20" y="240.30" font-size="8.0" text-anchor="middle" font-weight="normal" fill="#2b2b2b" style="stroke-width:0.08px">b</text>
<line x1="476.10" y1="293.00" x2="476.10" y2="299.00" stroke="#5e3a76" stroke-width="0.8"/>
<line x1="472.80" y1="293.00" x2="479.40" y2="293.00" stroke="#5e3a76" stroke-width="0.8"/>
<line x1="472.80" y1="299.00" x2="479.40" y2="299.00" stroke="#5e3a76" stroke-width="0.8"/>
<line x1="469.10" y1="296.60" x2="483.10" y2="296.60" stroke="#5e3a76" stroke-width="0.9"/>
<polygon points="473.00,295.01 474.84,291.49 471.16,291.49" fill="#22102e"/>
<polygon points="479.70,292.61 481.54,289.09 477.86,289.09" fill="#22102e"/>
<polygon points="473.00,302.31 474.84,298.79 471.16,298.79" fill="#22102e"/>
<polygon points="479.70,301.11 481.54,297.59 477.86,297.59" fill="#22102e"/>
<polygon points="476.10,298.71 477.94,295.19 474.26,295.19" fill="#22102e"/>
<text x="476.10" y="285.30" font-size="8.0" text-anchor="middle" font-weight="normal" fill="#2b2b2b" style="stroke-width:0.08px">a</text>
<line x1="498.00" y1="236.50" x2="498.00" y2="273.30" stroke="#f3b23a" stroke-width="0.8"/>
<line x1="494.70" y1="236.50" x2="501.30" y2="236.50" stroke="#f3b23a" stroke-width="0.8"/>
<line x1="494.70" y1="273.30" x2="501.30" y2="273.30" stroke="#f3b23a" stroke-width="0.8"/>
<line x1="491.00" y1="255.70" x2="505.00" y2="255.70" stroke="#f3b23a" stroke-width="0.9"/>
<circle cx="498.00" cy="232.00" r="1.35" fill="#dc9426"/>
<circle cx="498.00" cy="237.60" r="1.35" fill="#dc9426"/>
<circle cx="492.20" cy="262.00" r="1.35" fill="#dc9426"/>
<circle cx="503.50" cy="263.60" r="1.35" fill="#dc9426"/>
<circle cx="498.00" cy="265.10" r="1.35" fill="#dc9426"/>
<circle cx="498.00" cy="273.70" r="1.35" fill="#dc9426"/>
<text x="498.00" y="225.90" font-size="8.0" text-anchor="middle" font-weight="normal" fill="#2b2b2b" style="stroke-width:0.08px">b</text>
<rect x="0" y="0" width="520" height="1" fill="#555"/>
<rect x="0" y="0" width="1.1" height="372" fill="#555"/>
<rect x="518.7" y="0" width="1.3" height="372" fill="#555"/>
<rect x="0" y="370.5" width="520" height="1.5" fill="#444"/>
</svg>
</body></html>
